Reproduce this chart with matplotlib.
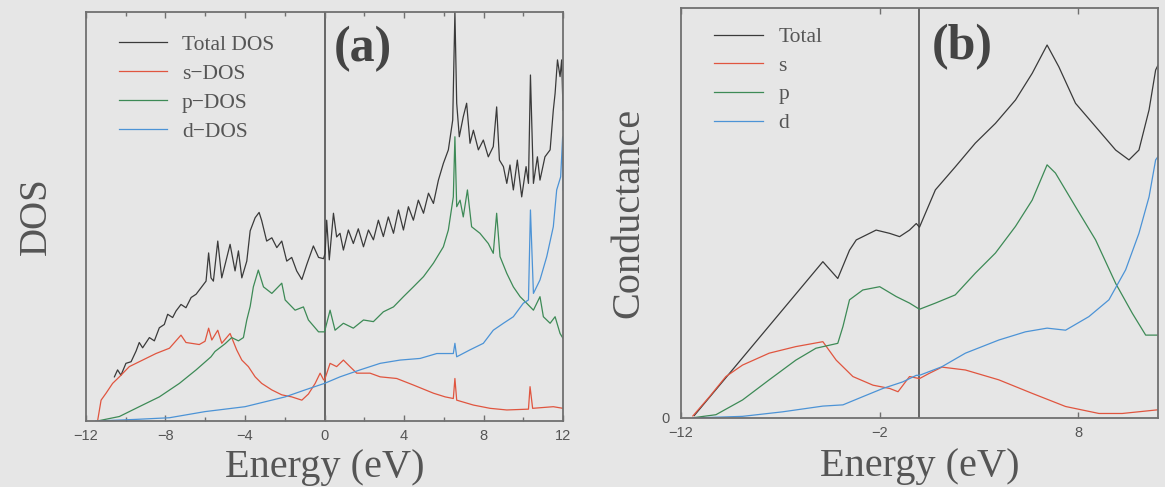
import numpy as np
import matplotlib.pyplot as plt

# ---- panel (a): density of states (arb. units 0-100)
e_tot = [-10.57, -10.41, -10.24, -9.99, -9.73, -9.48, -9.32, -9.15, -8.81, -8.56, -8.31,
         -8.06, -7.89, -7.64, -7.47, -7.22, -6.97, -6.71, -6.46, -6.21, -5.96, -5.83, -5.71,
         -5.59, -5.37, -5.17, -5.0, -4.75, -4.5, -4.33, -4.16, -3.91, -3.74, -3.49, -3.29,
         -3.16, -2.91, -2.65, -2.4, -2.15, -1.9, -1.65, -1.4, -1.14, -0.89, -0.56, -0.3,
         -0.05, 0.03, 0.11, 0.24, 0.45, 0.61, 0.78, 0.95, 1.2, 1.45, 1.7, 1.96, 2.21, 2.46,
         2.71, 2.96, 3.21, 3.47, 3.72, 3.97, 4.22, 4.47, 4.72, 4.98, 5.23, 5.48, 5.73, 5.98,
         6.23, 6.45, 6.56, 6.65, 6.78, 6.98, 7.15, 7.32, 7.49, 7.74, 7.99, 8.24, 8.49, 8.66,
         8.8, 9.0, 9.17, 9.33, 9.5, 9.7, 9.92, 10.14, 10.26, 10.36, 10.51, 10.71, 10.84,
         11.09, 11.35, 11.51, 11.6, 11.72, 11.85, 11.93, 12.0]
dos_tot = [10.8, 12.5, 11.2, 14.1, 14.5, 17.1, 19.2, 17.9, 20.4, 19.6, 22.8,
           23.6, 26.1, 25.3, 26.9, 28.5, 27.7, 30.2, 31.0, 32.6, 34.2, 41.1, 35.0,
           34.2, 44.0, 35.0, 38.3, 43.2, 36.7, 41.6, 35.0, 39.1, 46.5, 49.7, 51.0,
           49.0, 44.0, 44.8, 42.4, 44.0, 39.1, 40.0, 36.7, 34.6, 38.3, 42.8, 40.0,
           39.7, 41.0, 49.1, 39.4, 50.8, 45.0, 45.9, 41.8, 46.7, 43.4, 47.0, 42.6, 46.7, 44.3,
           49.1, 45.1, 49.9, 45.9, 51.6, 46.7, 52.4, 49.1, 54.0, 50.8, 55.7, 53.2, 58.9, 63.0,
           66.3, 73.6, 100.0, 77.7, 69.5, 74.4, 77.7, 67.9, 71.1, 66.3, 68.7, 64.6, 67.1, 76.8,
           63.8, 62.2, 58.1, 62.6, 56.5, 63.8, 54.8, 62.2, 58.1, 84.6, 58.1, 64.6, 58.9,
           64.6, 66.3, 76.0, 80.1, 88.3, 84.2, 88.3, 76.0]

e_s = [-11.41, -11.24, -10.99, -10.66, -10.32, -9.82, -9.15, -8.48, -7.8, -7.22, -6.97,
       -6.3, -6.01, -5.83, -5.67, -5.37, -5.17, -4.75, -4.42, -4.16, -3.83, -3.49, -3.16,
       -2.65, -2.15, -1.65, -1.14, -0.81, -0.47, -0.22, -0.05, 0.0, 0.28, 0.61, 0.95, 1.28,
       1.62, 2.29, 2.8, 3.63, 4.47, 5.48, 6.07, 6.48, 6.56, 6.65, 7.49, 8.33, 9.17, 10.26,
       10.34, 10.47, 11.51, 12.0]
dos_s = [0.2, 5.1, 6.8, 9.2, 10.8, 13.3, 14.9, 16.5, 17.8, 21.0, 19.2,
         18.7, 19.5, 22.7, 19.8, 22.2, 19.0, 21.4, 17.4, 14.9, 13.3, 10.8, 9.2,
         7.6, 6.4, 5.9, 5.1, 6.6, 9.2, 11.7, 10.1, 10.0, 14.1, 13.3, 14.9, 13.3,
         11.7, 11.7, 10.8, 10.4, 8.8, 6.8, 5.9, 5.5, 10.4, 5.1, 3.9, 3.1, 2.7, 2.9,
         8.4, 3.1, 3.5, 3.1]

e_p = [-11.33, -10.32, -9.32, -8.31, -7.3, -6.46, -5.71, -5.51, -5.0, -4.67, -4.33, -4.08,
       -3.91, -3.74, -3.58, -3.33, -3.07, -2.65, -2.15, -1.98, -1.48, -1.06, -0.81, -0.3,
       0.0, 0.28, 0.53, 0.95, 1.45, 1.96, 2.46, 2.96, 3.47, 3.97, 4.47, 4.98, 5.48, 5.98,
       6.23, 6.48, 6.56, 6.65, 6.82, 6.98, 7.19, 7.4, 7.82, 8.24, 8.49, 8.66, 8.83, 9.17,
       9.5, 9.84, 10.17, 10.51, 10.84, 11.01, 11.35, 11.6, 11.85, 12.0]
dos_p = [0.1, 1.1, 3.5, 5.9, 9.2, 12.5, 15.7, 17.0, 18.9, 20.4, 19.6, 20.4,
         24.7, 28.0, 32.8, 36.9, 32.8, 31.2, 33.7, 29.6, 27.1, 27.9, 24.7, 21.8,
         21.8, 27.1, 22.2, 23.9, 22.7, 24.7, 24.3, 26.7, 27.9, 30.4, 32.8, 35.3, 38.6, 42.6,
         46.7, 54.8, 69.5, 52.4, 54.0, 49.9, 56.5, 47.5, 45.9, 43.4, 41.0, 50.8, 40.2, 36.1,
         32.8, 30.4, 28.8, 27.1, 30.4, 25.5, 23.9, 25.5, 21.4, 20.2]

e_d = [-11.5, -9.48, -7.8, -6.01, -4.0, -1.98, -0.98, 0.0, 0.78, 1.79, 2.8, 3.8, 4.81,
       5.65, 6.48, 6.56, 6.65, 7.32, 7.99, 8.49, 9.0, 9.5, 10.0, 10.26, 10.36, 10.51,
       10.84, 11.18, 11.51, 11.68, 11.88, 11.98, 12.0]
dos_d = [0.0, 0.4, 0.8, 2.3, 3.5, 5.9, 7.6, 9.2, 10.8, 12.5, 14.1, 14.9, 15.3,
         16.5, 16.5, 19.0, 15.7, 17.4, 19.0, 22.2, 23.9, 25.5, 28.8, 29.6, 51.6, 31.2,
         34.5, 40.2, 47.5, 56.5, 59.7, 69.5, 56.5]

# ---- panel (b): conductance
e_gt = [-11.33, -4.86, -4.11, -3.52, -3.18, -2.18, -1.5, -1.0, -0.5, -0.16, 0.0, 0.8, 1.8,
        2.81, 3.82, 4.83, 5.67, 6.42, 7.01, 7.85, 8.86, 9.87, 10.54, 11.04, 11.55, 11.88, 12.0]
g_tot = [0.6, 38.1, 34.0, 40.9, 43.4, 45.8, 45.0, 44.2, 45.8, 47.4, 46.5, 55.6, 61.2,
         67.0, 71.8, 77.5, 84.0, 90.9, 85.6, 76.7, 71.0, 65.3, 62.9, 65.3, 75.1, 84.8, 86.0]

e_gs = [-11.4, -10.58, -9.74, -8.9, -7.56, -6.22, -4.86, -4.19, -3.35, -2.34, -1.5, -1.08,
        -0.5, 0.0, 0.46, 1.13, 2.31, 3.99, 5.67, 7.35, 9.03, 10.2, 12.0]
g_s = [0.5, 5.1, 10.1, 12.9, 15.8, 17.4, 18.6, 14.1, 10.1, 8.0, 7.2, 6.4,
       10.1, 9.6, 10.8, 12.4, 11.7, 9.3, 6.0, 2.8, 1.1, 1.1, 2.0]

e_gp = [-11.33, -10.24, -8.9, -7.56, -6.22, -5.21, -4.11, -3.85, -3.52, -2.85, -2.0, -1.17,
        -0.5, 0.0, 0.8, 1.8, 2.81, 3.82, 4.83, 5.67, 6.42, 6.84, 7.85, 8.86, 9.87, 10.71,
        11.38, 12.0]
g_p = [0.1, 0.8, 4.4, 9.3, 14.1, 17.0, 18.2, 22.3, 28.8, 31.2, 32.0, 29.6,
       28.0, 26.5, 28.0, 30.0, 35.3, 40.2, 46.7, 53.1, 61.7, 59.7, 51.5, 43.4, 32.8, 25.5,
       20.2, 20.2]

e_gd = [-11.4, -8.9, -6.89, -4.86, -3.85, -2.85, -1.84, -0.84, -0.16, 0.0, 1.13, 2.31,
        3.99, 5.33, 6.42, 7.35, 8.52, 9.53, 10.37, 11.04, 11.55, 11.88, 12.0]
g_d = [0.0, 0.4, 1.5, 2.9, 3.2, 5.2, 7.2, 8.8, 10.4, 10.4, 12.5, 15.8,
       19.0, 21.0, 21.9, 21.4, 24.7, 28.8, 36.1, 45.0, 53.9, 62.9, 63.7]

bg = '#e6e6e6'
c_k, c_r, c_g, c_b = '#3a3a3a', '#e0553f', '#3d8a56', '#4c93d6'
txt = '#555555'

plt.rcParams['font.family'] = 'Liberation Serif'

fig = plt.figure(figsize=(11.65, 4.87), dpi=100, facecolor=bg)
ax1 = fig.add_axes([0.0738, 0.1355, 0.4095, 0.8398])
ax2 = fig.add_axes([0.5845, 0.1417, 0.4095, 0.8425])

for ax in (ax1, ax2):
    ax.set_facecolor(bg)
    for sp in ax.spines.values():
        sp.set_color('#707070')
        sp.set_linewidth(1.3)
    ax.set_xlim(-12, 12)
    ax.set_ylim(0, 100)
    ax.axvline(0, color='#505050', lw=1.2, zorder=1)
    ax.tick_params(axis='x', direction='in', top=True, length=4, width=1,
                   colors='#707070', labelcolor='#555555', pad=6)
    ax.tick_params(axis='x', which='minor', direction='in', top=True, length=3, width=1,
                   colors='#707070')

# panel (a)
ax1.plot(e_tot, dos_tot, color=c_k, lw=0.9, label='Total DOS')
ax1.plot(e_s, dos_s, color=c_r, lw=0.9, label='s\u2212DOS')
ax1.plot(e_p, dos_p, color=c_g, lw=0.9, label='p\u2212DOS')
ax1.plot(e_d, dos_d, color=c_b, lw=0.9, label='d\u2212DOS')
ax1.set_xticks(np.arange(-12, 13, 4))
ax1.set_xticks(np.arange(-12, 13, 2), minor=True)
ax1.set_yticks([])
ax1.set_xlabel('Energy (eV)', fontsize=29, color=txt)
ax1.xaxis.set_label_coords(0.5, -0.068)
ax1.set_ylabel('DOS', fontsize=28, color=txt)
ax1.yaxis.set_label_coords(-0.065, 0.5)
ax1.text(0.58, 0.91, '(a)', transform=ax1.transAxes, fontsize=36, fontweight='bold',
         color='#444444', ha='center', va='center')
ax1.legend(loc='upper left', bbox_to_anchor=(0.07, 0.945), frameon=False, fontsize=15.5,
           handlelength=2.2, handletextpad=0.7, labelspacing=0.42, borderaxespad=0,
           borderpad=0, labelcolor=txt)

# panel (b)
ax2.plot(e_gt, g_tot, color=c_k, lw=0.9, label='Total')
ax2.plot(e_gs, g_s, color=c_r, lw=0.9, label='s')
ax2.plot(e_gp, g_p, color=c_g, lw=0.9, label='p')
ax2.plot(e_gd, g_d, color=c_b, lw=0.9, label='d')
ax2.set_xticks([-12, -2, 8])
ax2.set_yticks([0])
ax2.tick_params(axis='y', length=0, pad=8, labelcolor='#555555')
ax2.set_xlabel('Energy (eV)', fontsize=29, color=txt)
ax2.xaxis.set_label_coords(0.5, -0.072)
ax2.set_ylabel('Conductance', fontsize=29, color=txt)
ax2.yaxis.set_label_coords(-0.07, 0.5)
ax2.text(0.59, 0.903, '(b)', transform=ax2.transAxes, fontsize=36, fontweight='bold',
         color='#444444', ha='center', va='center')
ax2.legend(loc='upper left', bbox_to_anchor=(0.069, 0.953), frameon=False, fontsize=15.5,
           handlelength=2.3, handletextpad=0.7, labelspacing=0.4, borderaxespad=0,
           borderpad=0, labelcolor=txt)

for ax in (ax1, ax2):
    for lab in ax.get_xticklabels() + ax.get_yticklabels():
        lab.set_fontfamily('Liberation Sans')
        lab.set_fontsize(10.5)

fig.savefig('out.png', dpi=100, facecolor=bg)
